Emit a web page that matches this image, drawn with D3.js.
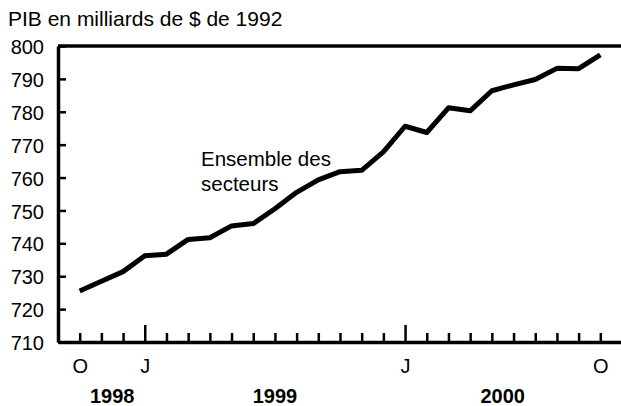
<!DOCTYPE html>
<html>
<head>
<meta charset="utf-8">
<script src="https://cdn.jsdelivr.net/npm/d3@7/dist/d3.min.js"></script>
<style>
body { margin: 0; background: #fff; }
svg text { font-family: "Liberation Sans", Arial, sans-serif; fill: #000; }
</style>
</head>
<body>
<div id="chart"></div>
<script>
// monthly GDP, billions of 1992 dollars
var months = ['1998-10', '1998-11', '1998-12',
    '1999-01', '1999-02', '1999-03', '1999-04', '1999-05', '1999-06',
    '1999-07', '1999-08', '1999-09', '1999-10', '1999-11', '1999-12',
    '2000-01', '2000-02', '2000-03', '2000-04', '2000-05', '2000-06',
    '2000-07', '2000-08', '2000-09', '2000-10']
var pib = [725.5, 728.5, 731.4,
    736.2, 736.7, 741.2, 741.7, 745.3, 746.0,
    750.5, 755.5, 759.3, 761.8, 762.2, 767.8,
    775.6, 773.7, 781.2, 780.3, 786.4, 788.2,
    789.8, 793.2, 793.1, 797.3]
var labeledMonths = ['1998-10', '1999-01', '2000-01', '2000-10']
var monthLetters = ['O', 'J', 'J', 'O']
var yTicks = [710, 720, 730, 740, 750, 760, 770, 780, 790, 800]
var years = ['1998', '1999', '2000']

function lineChart(selector) {
    var width = 621, height = 406
    var margin = { top: 46, right: 0, bottom: 64, left: 58 }

    var svg = d3.select(selector).append('svg')
        .attr('width', width)
        .attr('height', height)

    var x = d3.scaleLinear()
        .domain([-1, months.length])
        .range([margin.left, width + 1])
    var y = d3.scaleLinear()
        .domain([d3.min(yTicks), d3.max(yTicks)])
        .range([height - margin.bottom, margin.top])

    // top border
    svg.append('line')
        .attr('x1', x(-1)).attr('x2', x(months.length))
        .attr('y1', y(d3.max(yTicks))).attr('y2', y(d3.max(yTicks)))
        .attr('stroke', '#000')
        .attr('stroke-width', 3.5)

    var yAxis = svg.append('g')
        .attr('transform', 'translate(' + x(-1) + ',0)')
        .call(d3.axisLeft(y).tickValues(yTicks).tickSize(-8).tickSizeOuter(0).tickPadding(14))
    yAxis.select('.domain').attr('stroke-width', 3.5)
    yAxis.selectAll('.tick line').attr('stroke-width', 2.5)
    yAxis.selectAll('text').attr('font-size', '20px').attr('dy', '0.38em')

    var xAxis = svg.append('g')
        .attr('transform', 'translate(0,' + y(d3.min(yTicks)) + ')')
        .call(d3.axisBottom(x)
            .tickValues(d3.range(months.length))
            .tickSize(-9).tickSizeOuter(0).tickPadding(17)
            .tickFormat(function (i) {
                var k = labeledMonths.indexOf(months[i])
                return k < 0 ? '' : monthLetters[k]
            }))
    xAxis.select('.domain').attr('stroke-width', 3.5)
    xAxis.selectAll('.tick line')
        .attr('stroke-width', 2.5)
        .attr('y2', function (i) { return months[i].slice(5) === '01' ? -17 : -9 })
    xAxis.selectAll('text').attr('font-size', '20px')

    // year labels centred under each year's span
    svg.selectAll('.year')
        .data(years)
        .enter()
        .append('text')
        .attr('class', 'year')
        .attr('x', function (yr) {
            var first = months.findIndex(function (m) { return m.slice(0, 4) === yr })
            var next = months.findIndex(function (m) { return m.slice(0, 4) > yr })
            if (next < 0) next = months.length - 1
            return x((first + next) / 2)
        })
        .attr('y', 403)
        .attr('text-anchor', 'middle')
        .attr('font-size', '20px')
        .attr('font-weight', 'bold')
        .text(function (yr) { return yr })

    var line = d3.line()
        .x(function (d, i) { return x(i) })
        .y(function (d) { return y(d) })

    svg.append('path')
        .datum(pib)
        .attr('fill', 'none')
        .attr('stroke', '#000')
        .attr('stroke-width', 5)
        .attr('stroke-linejoin', 'round')
        .attr('d', line)

    svg.append('text')
        .attr('x', 8)
        .attr('y', 26)
        .attr('font-size', '21px')
        .text('PIB en milliards de $ de 1992')

    var note = svg.append('text')
        .attr('x', 201)
        .attr('y', 166)
        .attr('font-size', '20.5px')
    note.append('tspan').attr('x', 201).text('Ensemble des')
    note.append('tspan').attr('x', 201).attr('dy', 25).text('secteurs')
}

lineChart('#chart')
</script>
</body>
</html>
